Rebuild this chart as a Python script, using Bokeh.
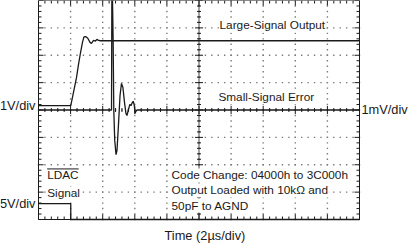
import numpy as np
from bokeh.plotting import figure
from bokeh.models import Label, Range1d
from bokeh.embed import file_html
from bokeh.resources import INLINE

# ---- screen: 10 horizontal divisions (2 us/div), 8 vertical divisions ----
time_per_div = 2.0
n_xdiv = 10
n_ydiv = 8

# Large-signal output (1V/div), time in us, level in screen divisions
large_t = [0.0, 2.01, 2.18, 2.37, 2.49, 2.62, 2.74, 2.83, 2.96, 3.08, 3.21, 3.30,
           3.43, 3.55, 3.64, 3.74, 3.86, 20.0]
large_v = [0.16, 0.16, 0.64, 1.19, 1.66, 2.10, 2.47, 2.67, 2.68, 2.61, 2.47, 2.43,
           2.54, 2.52, 2.58, 2.54, 2.53, 2.53]

# Small-signal error (1mV/div)
err_t = [0.0, 4.55, 4.57, 4.61, 4.65, 4.69, 4.75, 4.83, 4.89, 4.98, 5.08, 5.17, 5.26,
         5.36, 5.45, 5.51, 5.61, 5.69, 5.76, 5.82, 5.90, 5.96, 6.02, 6.07, 6.14, 20.0]
err_v = [0.0, 0.0, 4.3, 4.3, 2.54, 0.02, -1.11, -1.63, -1.48, -0.57, 0.53, 0.97, 0.82,
         0.27, -0.13, -0.20, 0.02, 0.20, 0.16, 0.24, 0.32, 0.20, -0.12, -0.05, 0.0, 0.0]

# LDAC signal (5V/div)
ldac_t = [0.0, 2.01, 2.01, 20.0]
ldac_v = [-3.42, -3.42, -4.0, -4.0]

FONT = "Liberation Sans"
FS_IN = "11.8px"
FS_OUT = "12.8px"
INK = "#1a1a1a"

x_max = time_per_div * n_xdiv
y_half = n_ydiv / 2

# screen geometry: graticule occupies pixels x 38..359, y 0..219 of the 408x243 canvas
GL, GR, GB = 38, 49, 24
ux = x_max / (408 - GL - GR)       # data units per pixel (x)
uy = n_ydiv / (243 - GB)           # data units per pixel (y)

p = figure(width=408, height=243, output_backend="svg", toolbar_location=None,
           x_range=Range1d(-GL * ux, x_max + GR * ux),
           y_range=Range1d(-y_half - GB * uy, y_half),
           x_axis_location=None, y_axis_location=None,
           min_border_left=0, min_border_right=0, min_border_top=0, min_border_bottom=0)
p.grid.visible = False
p.outline_line_color = None
p.background_fill_color = "white"
p.border_fill_color = "white"

# ---- dotted graticule ----
gx_lines = np.arange(1, n_xdiv) * time_per_div
gy_lines = np.arange(-y_half + 1, y_half)
dot_x, dot_y = [], []
for gx in gx_lines:
    ys = np.arange(-y_half, y_half + 1e-9, 0.2)
    dot_x += [gx] * len(ys)
    dot_y += list(ys)
for gy in gy_lines:
    xs = np.arange(0, x_max + 1e-9, 0.2 * time_per_div)
    dot_x += list(xs)
    dot_y += [gy] * len(xs)
p.scatter(dot_x, dot_y, marker="square", size=1.4, fill_color="#7a7a7a", line_color=None)

# ---- graticule frame and center vertical axis ----
p.quad(left=[0], right=[x_max], bottom=[-y_half], top=[y_half],
       fill_color=None, line_color=INK, line_width=1)
p.segment([x_max / 2], [-y_half], [x_max / 2], [y_half], line_color=INK, line_width=0.8)

# ---- ticks on frame edges (inward) and on center axes ----
sx0, sx1, sy0, sy1 = [], [], [], []
minor_x = np.arange(0, x_max + 1e-9, 0.2 * time_per_div)
minor_y = np.arange(-y_half, y_half + 1e-9, 0.2)
for xv in minor_x:
    major = abs(xv / time_per_div - round(xv / time_per_div)) < 1e-6
    L = (5 if major else 3) * uy
    sx0 += [xv, xv]; sx1 += [xv, xv]
    sy0 += [-y_half, y_half]; sy1 += [-y_half + L, y_half - L]
    c = (4 if major else 2) * uy
    sx0.append(xv); sx1.append(xv); sy0.append(-c); sy1.append(c)
for yv in minor_y:
    major = abs(yv - round(yv)) < 1e-6
    L = (5 if major else 3) * ux
    sx0 += [0, x_max]; sx1 += [L, x_max - L]
    sy0 += [yv, yv]; sy1 += [yv, yv]
    c = (4 if major else 2) * ux
    sx0.append(x_max / 2 - c); sx1.append(x_max / 2 + c); sy0.append(yv); sy1.append(yv)
p.segment(sx0, sy0, sx1, sy1, line_color=INK, line_width=1)

# ---- traces (kept inside the graticule) ----
def clip(v):
    return list(np.clip(v, -y_half, y_half + 2 * uy))

p.line(large_t, large_v, line_color=INK, line_width=1.3)
p.line(err_t, clip(err_v), line_color=INK, line_width=1.3)
p.line(ldac_t, ldac_v, line_color=INK, line_width=1.3)

# ---- texts ----
def lab(x, y, text, align="left", bg=True, fs=FS_IN):
    kw = dict(x=x, y=y, text=text, text_font=FONT, text_font_size=fs,
              text_color=INK, text_align=align, text_baseline="middle")
    if bg:
        kw["background_fill_color"] = "white"
    p.add_layout(Label(**kw))

lab(-3 * ux, large_v[0], "1V/div", align="right", bg=False, fs=FS_OUT)
lab(-3 * ux, ldac_v[0], "5V/div", align="right", bg=False, fs=FS_OUT)
lab(x_max + 2 * ux, 0.03, "1mV/div", bg=False, fs=FS_OUT)
lab(10.37, -y_half - 16 * uy, "Time (2\u00b5s/div)", align="center", bg=False, fs=FS_OUT)
lab(11.28, 3.09, "Large-Signal Output")
lab(11.21, 0.47, "Small-Signal Error")
ldac_x, ldac_y = 0.54, -2.39
lab(ldac_x, ldac_y, "LDAC")
p.segment([ldac_x], [ldac_y + 6.5 * uy], [ldac_x + 31.5 * ux], [ldac_y + 6.5 * uy],
          line_color=INK, line_width=1, level="overlay")
lab(ldac_x, -3.05, "Signal")
lab(8.29, -2.39, "Code Change: 04000h to 3C000h")
lab(8.29, -2.94, "Output Loaded with 10k\u03a9 and")
lab(8.29, -3.49, "50pF to AGND")

open("out.html", "w").write(file_html(p, INLINE))
